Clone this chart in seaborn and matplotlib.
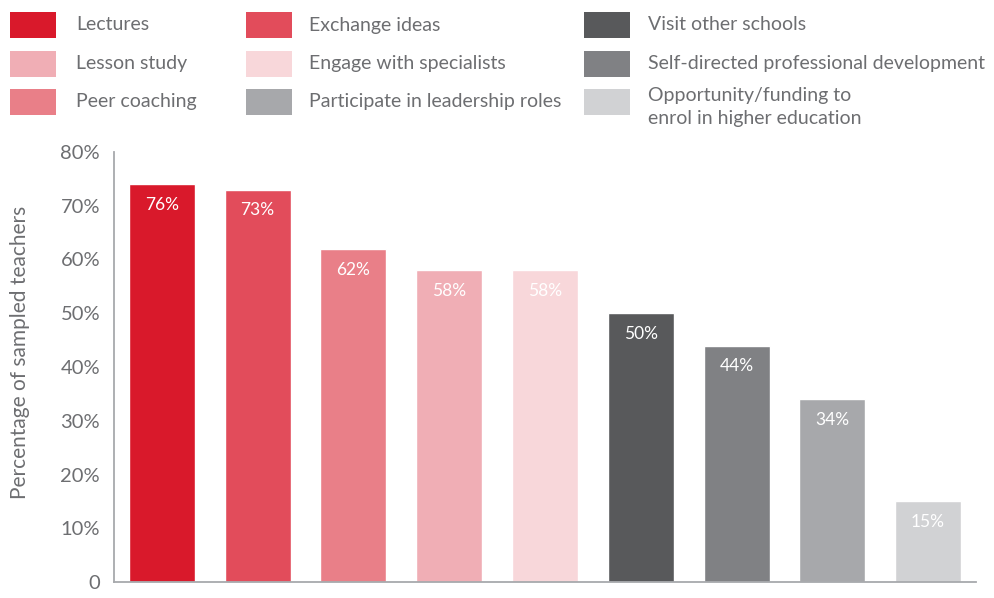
import numpy as np
import pandas as pd
import seaborn as sns
import matplotlib.pyplot as plt
from matplotlib.patches import Rectangle

# Data
categories = ['Lectures', 'Exchange ideas', 'Peer coaching', 'Lesson study',
              'Engage with specialists', 'Visit other schools',
              'Self-directed professional development',
              'Participate in leadership roles',
              'Opportunity/funding to\nenrol in higher education']
heights = [74, 73, 62, 58, 58, 50, 44, 34, 15]
bar_labels = ['76%', '73%', '62%', '58%', '58%', '50%', '44%', '34%', '15%']
colors = ['#d9192b', '#e24c5b', '#e97f88', '#f0aeb5', '#f8d7da',
          '#58595b', '#808184', '#a7a8ab', '#d1d2d4']
yticks = [0, 10, 20, 30, 40, 50, 60, 70, 80]
ytick_labels = ['0', '10%', '20%', '30%', '40%', '50%', '60%', '70%', '80%']

# legend order (column by column, as in the original)
legend_order = [0, 3, 2, 1, 4, 7, 5, 6, 8]

GREY = '#6d6e71'
AXC = '#a7a9ac'

sns.set_style('white')
plt.rcParams['font.family'] = ['Lato', 'DejaVu Sans']

W, H = 994, 598
fig = plt.figure(figsize=(W / 100, H / 100), dpi=100)
ax = fig.add_axes([114 / W, 1 - 582 / H, (976 - 114) / W, (582 - 152) / H])

df = pd.DataFrame({'cat': categories, 'val': heights})
sns.barplot(data=df, x='cat', y='val', hue='cat', palette=colors,
            legend=False, width=0.69, saturation=1, ax=ax)

ax.set_ylim(0, 80)
ax.set_xlim(-0.5, len(categories) - 0.5)

# labels inside the bars
for bar, lab in zip(ax.patches, bar_labels):
    ax.annotate(lab, (bar.get_x() + bar.get_width() / 2, bar.get_height()),
                xytext=(0, -15), textcoords='offset points',
                ha='center', va='center', color='white', fontsize=12.5)

# axes styling
for s in ['top', 'right']:
    ax.spines[s].set_visible(False)
for s in ['left', 'bottom']:
    ax.spines[s].set_color(AXC)
    ax.spines[s].set_linewidth(1.3)

ax.set_yticks(yticks)
ax.set_yticklabels(ytick_labels)
ax.tick_params(axis='y', direction='in', length=15, width=1.2, color=AXC,
               labelsize=14.5, labelcolor=GREY, pad=10)
ax.set_xticks([])
ax.set_xticks(np.arange(-0.5, len(categories), 1), minor=True)
ax.tick_params(axis='x', which='minor', direction='in', length=7, width=1.2,
               color=AXC)
ax.set_xlabel('')
ax.set_ylabel('Percentage of sampled teachers', fontsize=15, color=GREY)
ax.yaxis.set_label_coords(-0.098, 0.535)

# legend drawn by hand in three columns
col_x = [10, 246, 584]
text_x = [76, 309, 648]
row_y = [12, 51, 89]
for k, idx in enumerate(legend_order):
    c, r = divmod(k, 3)
    x0, y0 = col_x[c], row_y[r]
    fig.add_artist(Rectangle((x0 / W, 1 - (y0 + 26) / H), 46 / W, 26 / H,
                             transform=fig.transFigure,
                             facecolor=colors[idx], edgecolor='none'))
    lab = categories[idx]
    if '\n' in lab:
        fig.text(text_x[c] / W, 1 - (y0 - 2) / H, lab, ha='left', va='top',
                 fontsize=14, color=GREY, linespacing=1.4)
    else:
        fig.text(text_x[c] / W, 1 - (y0 + 13) / H, lab, ha='left',
                 va='center', fontsize=14, color=GREY)

fig.savefig('out.png', dpi=100)
